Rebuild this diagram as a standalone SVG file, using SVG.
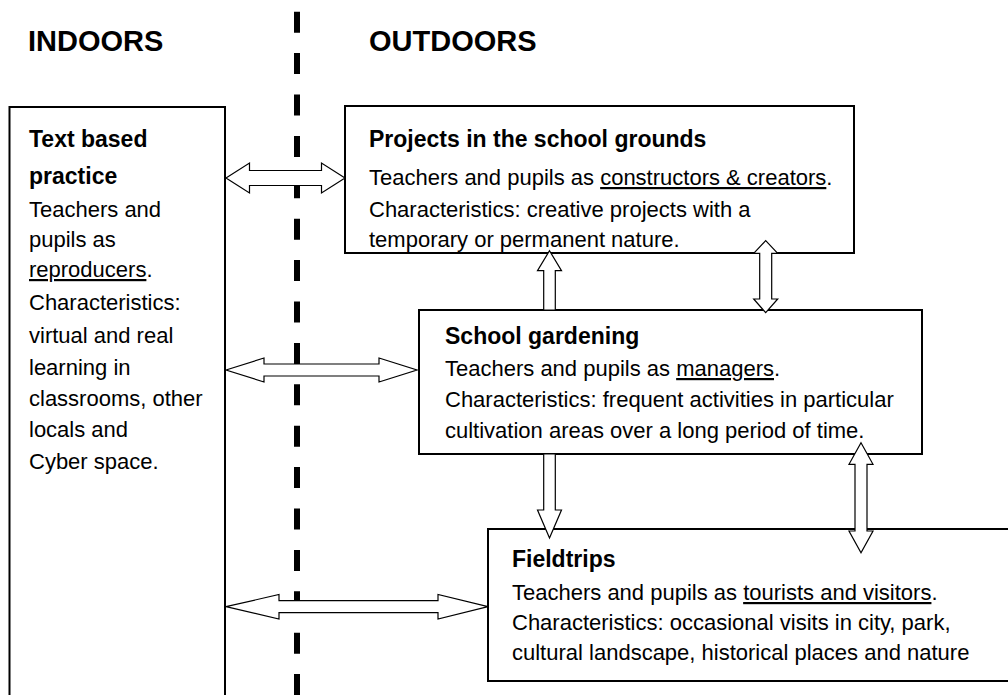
<svg xmlns="http://www.w3.org/2000/svg" width="1008" height="695" viewBox="0 0 1008 695">
<style>
.box{fill:#fff;stroke:#000;stroke-width:2}
.arr{fill:#fff;stroke:#000;stroke-width:1.2;stroke-linejoin:miter}
.h1{font-family:"Liberation Sans",Arial,sans-serif;font-weight:bold;font-size:29px;fill:#000}
.h2{font-family:"Liberation Sans",Arial,sans-serif;font-weight:bold;font-size:23px;fill:#000}
.t{font-family:"Liberation Sans",Arial,sans-serif;font-size:22px;fill:#000}
.u{text-decoration:underline}
</style>
<rect width="1008" height="695" fill="#fff"/>
<g id="headers">
<text class="h1" x="28" y="51">INDOORS</text>
<text class="h1" x="369" y="51">OUTDOORS</text>
</g>
<g id="divider">
<line x1="297" y1="11.7" x2="297" y2="700" stroke="#000" stroke-width="6" stroke-dasharray="21 20.4"/>
</g>
<g id="node-text-based">
<rect class="box" x="9.5" y="107" width="215.5" height="600"/>
<text class="h2" x="29" y="147">Text based</text>
<text class="h2" x="29" y="184">practice</text>
<text class="t" x="29" y="217">Teachers and</text>
<text class="t" x="29" y="247">pupils as</text>
<text class="t" x="29" y="277"><tspan class="u">reproducers</tspan>.</text>
<text class="t" x="29" y="310">Characteristics:</text>
<text class="t" x="29" y="342.5">virtual and real</text>
<text class="t" x="29" y="375">learning in</text>
<text class="t" x="29" y="406">classrooms, other</text>
<text class="t" x="29" y="437">locals and</text>
<text class="t" x="29" y="469">Cyber space.</text>
</g>
<g id="node-projects">
<rect class="box" x="345" y="106" width="509" height="147"/>
<text class="h2" x="369" y="147">Projects in the school grounds</text>
<text class="t" x="369" y="185">Teachers and pupils as <tspan class="u">constructors &amp; creators</tspan>.</text>
<text class="t" x="369" y="217">Characteristics: creative projects with a</text>
<text class="t" x="369" y="247">temporary or permanent nature.</text>
</g>
<g id="node-gardening">
<rect class="box" x="419" y="310" width="503" height="144"/>
<text class="h2" x="445" y="344">School gardening</text>
<text class="t" x="445" y="376">Teachers and pupils as <tspan class="u">managers</tspan>.</text>
<text class="t" x="445" y="407">Characteristics: frequent activities in particular</text>
<text class="t" x="445" y="438">cultivation areas over a long period of time.</text>
</g>
<g id="node-fieldtrips">
<rect class="box" x="488" y="529" width="530" height="152"/>
<text class="h2" x="512" y="567">Fieldtrips</text>
<text class="t" x="512" y="600">Teachers and pupils as <tspan class="u">tourists and visitors</tspan>.</text>
<text class="t" x="512" y="630">Characteristics: occasional visits in city, park,</text>
<text class="t" x="512" y="660">cultural landscape, historical places and nature</text>
</g>
<g id="connectors">
<polygon class="arr" points="226,178 249.5,163 249.5,170.5 321.5,170.5 321.5,163 345,178 321.5,193 321.5,185.5 249.5,185.5 249.5,193"/>
<polygon class="arr" points="226,370 264,358 264,364 379,364 379,358 417,370 379,382 379,376 264,376 264,382"/>
<polygon class="arr" points="226,606.7 279,594.5 279,600.7 438,600.7 438,594.5 488,606.7 438,619 438,612.7 279,612.7 279,619"/>
<polygon class="arr" points="549.5,250.7 561.5,270.7 555.3,270.7 555.3,310 543.7,310 543.7,270.7 537.5,270.7"/>
<polygon class="arr" points="549.5,538 561.5,510 555.3,510 555.3,454 543.7,454 543.7,510 537.5,510"/>
<polygon class="arr" points="765.7,240.7 777.7,253.3 771.7,253.3 771.7,299 777.7,299 765.7,312.7 753.7,299 759.7,299 759.7,253.3 753.7,253.3"/>
<polygon class="arr" points="861,442.7 873,464.3 867,464.3 867,531 873,531 861,552.7 849,531 855,531 855,464.3 849,464.3"/>
</g>
</svg>
